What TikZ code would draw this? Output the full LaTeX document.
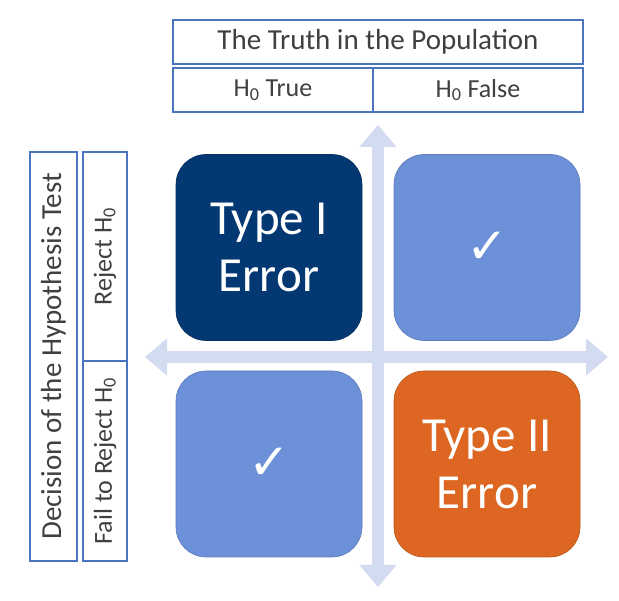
\documentclass[tikz,border=0pt]{standalone}
\usepackage{fontspec}
\setmainfont{Carlito}
\newfontfamily\symfont{DejaVu Sans}
\usepackage{xcolor}
\definecolor{FrameBlue}{HTML}{4A74C0}
\definecolor{TextGray}{HTML}{404040}
\definecolor{ErrorNavy}{HTML}{043873}
\definecolor{OkBlue}{HTML}{6C91D9}
\definecolor{ErrorOrange}{HTML}{DD6722}
\definecolor{AxisLilac}{HTML}{D3DBF0}
\usetikzlibrary{arrows.meta, positioning}

\begin{document}
\begin{tikzpicture}[
  x=1pt, y=-1pt,
  % Kopfzelle (Tabelle oben / links)
  headcell/.style={
    draw=FrameBlue,
    line width=1.2pt,
    fill=white,
    text=TextGray,
    inner sep=0pt
  },
  % Quadrant mit abgerundeten Ecken
  quadrant/.style={
    draw=#1!85!black,
    line width=0.6pt,
    fill=#1,
    minimum width=186pt,
    minimum height=186pt,
    rounded corners=30pt,
    text=white,
    align=center,
    inner sep=0pt
  },
  quadrant/.default=OkBlue,
  % Achsenpfeil
  axis/.style={
    draw=AxisLilac,
    line width=12pt,
    {Triangle[width=36pt,length=22pt]}-{Triangle[width=36pt,length=22pt]}
  },
  bigtext/.style={font=\fontsize{49}{57}\selectfont},
  checktext/.style={font=\symfont\fontsize{50}{50}\selectfont},
  maintext/.style={font=\fontsize{29}{32}\selectfont},
  subtext/.style={font=\fontsize{26}{30}\selectfont}
]

% =============================================================================
% HINTERGRUND
% =============================================================================
\fill[white] (0,0) rectangle (619,601);
\useasboundingbox (0,0) rectangle (619,601);

% =============================================================================
% ACHSEN
% =============================================================================
\coordinate (axtop) at (378,125);
\coordinate (axbottom) at (378,587);
\coordinate (axleft) at (145,357);
\coordinate (axright) at (608,357);
\draw[axis] (axtop) -- (axbottom);
\draw[axis] (axleft) -- (axright);

% =============================================================================
% WAHRHEIT (oben)
% =============================================================================
\node[headcell, maintext, minimum width=410pt, minimum height=44pt] (truth) at (378,42) {The Truth in the Population};
\node[headcell, subtext, minimum width=200pt, minimum height=44pt] (htrue) at (273,90) {H\textsubscript{0} True};
\node[headcell, subtext, minimum width=210pt, minimum height=44pt] (hfalse) at (478,90) {H\textsubscript{0} False};

% =============================================================================
% ENTSCHEIDUNG (links)
% =============================================================================
\node[headcell, maintext, minimum width=409pt, minimum height=47pt, rotate=90] (decision) at (53.5,356.5) {Decision of the Hypothesis Test};
\node[headcell, subtext, minimum width=209pt, minimum height=44pt, rotate=90] (reject) at (105,256.5) {Reject H\textsubscript{0}};
\node[headcell, subtext, minimum width=200pt, minimum height=44pt, rotate=90] (failreject) at (105,461) {Fail to Reject H\textsubscript{0}};

% =============================================================================
% QUADRANTEN
% =============================================================================
% Typ-I-Fehler
\node[quadrant=ErrorNavy, bigtext] (typeone) at (269,247.5) {Type I\\Error};

% Richtig verworfen
\node[quadrant, checktext] (okreject) at (487,247.5) {✓};

% Richtig beibehalten
\node[quadrant, checktext] (okkeep) at (269,464) {✓};

% Typ-II-Fehler
\node[quadrant=ErrorOrange, bigtext] (typetwo) at (487,464) {Type II\\Error};

\end{tikzpicture}
\end{document}
